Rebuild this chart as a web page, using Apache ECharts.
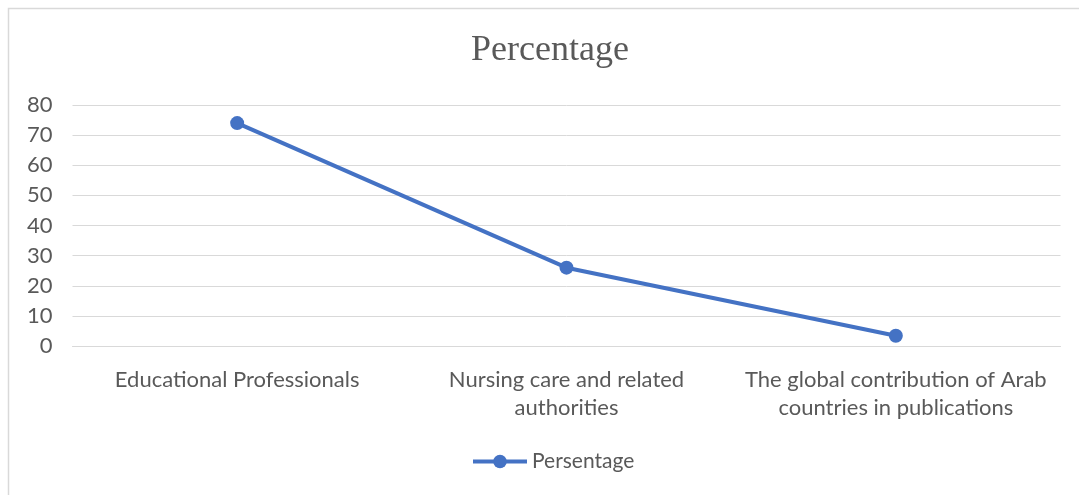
<!DOCTYPE html>
<html><head><meta charset="utf-8">
<script src="https://cdn.jsdelivr.net/npm/echarts@6/dist/echarts.min.js"></script>
<style>html,body{margin:0;padding:0;background:#fff}#c{width:1079px;height:495px}</style>
</head><body><div id="c"></div>
<script>
const categories = ["Educational Professionals", "Nursing care and related\nauthorities", "The global contribution of Arab\ncountries in publications"];
const values = [74, 26, 3.4];
const seriesName = "Persentage";
const titleText = "Percentage";
const yTicks = [0, 80, 10];

const chart = echarts.init(document.getElementById('c'), null, {renderer: 'canvas'});
chart.setOption({
  animation: false,
  backgroundColor: '#fff',
  graphic: [{type: 'rect', shape: {x: 8.5, y: 8.5, width: 1200, height: 600}, style: {fill: 'none', stroke: '#d9d9d9', lineWidth: 1.5}, silent: true}],
  title: {text: titleText, left: 545, top: 28, textAlign: 'center',
    textStyle: {fontFamily: 'Liberation Serif', fontSize: 36, fontWeight: 'normal', color: '#595959'}},
  legend: {data: [seriesName], left: 466, top: 446,
    itemWidth: 54, itemHeight: 17, itemGap: 5,
    lineStyle: {width: 4},
    textStyle: {fontFamily: 'Lato', fontSize: 21, color: '#595959'}},
  grid: {left: 72.5, right: 18.5, top: 105, bottom: 149, containLabel: false},
  xAxis: {type: 'category', data: categories, boundaryGap: true,
    axisLine: {show: true, lineStyle: {color: '#d9d9d9', width: 1}},
    axisTick: {show: false},
    axisLabel: {fontFamily: 'Lato', fontSize: 22, color: '#595959', lineHeight: 28, margin: 20, interval: 0}},
  yAxis: {type: 'value', min: yTicks[0], max: yTicks[1], interval: yTicks[2],
    axisLine: {show: false}, axisTick: {show: false},
    splitLine: {lineStyle: {color: '#d9d9d9', width: 1}},
    axisLabel: {fontFamily: 'Lato', fontSize: 22, color: '#595959', margin: 20}},
  series: [{name: seriesName, type: 'line', data: values,
    symbol: 'circle', symbolSize: 14,
    lineStyle: {color: '#4472C4', width: 4},
    itemStyle: {color: '#4472C4'}}]
});
</script></body></html>
